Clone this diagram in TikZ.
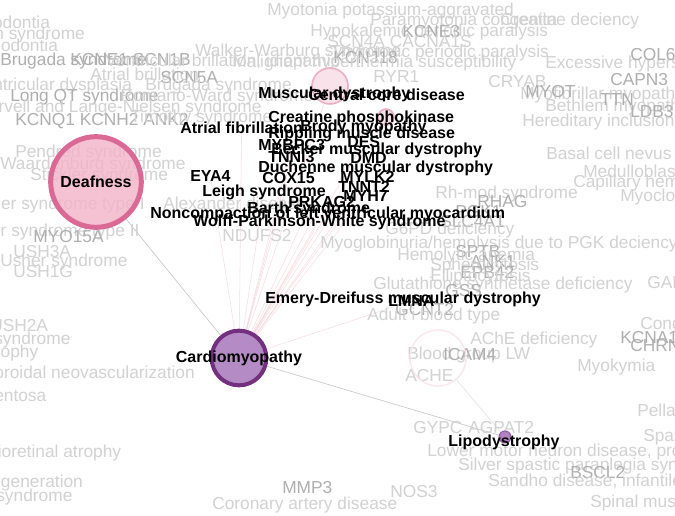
\documentclass[tikz,border=0pt]{standalone}
\usepackage{fontspec}
\setmainfont{Liberation Sans}
\usetikzlibrary{positioning,backgrounds}
\definecolor{deafpink}{HTML}{F3B3C8}
\definecolor{deafring}{HTML}{DA6A95}
\definecolor{cardiofill}{HTML}{B58BC5}
\definecolor{cardioring}{HTML}{72307E}
\definecolor{lipofill}{HTML}{B183C1}
\definecolor{lipofring}{HTML}{8E5A9E}
\definecolor{fadepink}{HTML}{F7D6E1}
\definecolor{fadering}{HTML}{EBB0C4}
\definecolor{ghostgrey}{HTML}{D2D2D2}
\definecolor{ghostdark}{HTML}{AFAFAF}
\definecolor{edgepink}{HTML}{F4C6D3}
\definecolor{edgegrey}{HTML}{CACACA}
\tikzset{
  lbl/.style   ={anchor=west, inner sep=0pt, text=black,
                 font=\bfseries\fontsize{12}{12}\selectfont},
  hublbl/.style={lbl, anchor=center},
  ghost/.style ={anchor=west, inner sep=0pt, text=ghostgrey,
                 font=\fontsize{13}{13}\selectfont},
  ghostdense/.style={ghost, text=ghostdark},
  hub/.style   ={circle, inner sep=0pt},
  deafhub/.style={hub, fill=deafpink, fill opacity=0.8, text opacity=1,
                 draw=deafring, line width=3.75pt, minimum size=68pt,
                 font=\bfseries\fontsize{12}{12}\selectfont},
  cardiohub/.style={hub, fill=cardiofill, draw=cardioring, line width=3pt,
                 minimum size=41pt},
  lipohub/.style={hub, fill=lipofill, draw=lipofring, line width=0.8pt,
                 minimum size=9pt},
  fadehub/.style={hub, fill=fadepink, fill opacity=0.7, draw=fadering,
                 line width=1.2pt},
  ghosthub/.style={hub, draw=fadepink!60, line width=1pt},
  fan/.style   ={draw=edgepink, line width=0.4pt, opacity=0.6},
  link/.style  ={draw=edgegrey, line width=0.5pt},
}

\begin{document}
\begin{tikzpicture}[x=0.75pt, y=-0.75pt]
\useasboundingbox (0,0) rectangle (675,516);
\clip (0,0) rectangle (675,516);

% ---------------------------------------------------------------- faint labels, top
\node[ghost] (g01) at (-38,24) {Hypodontia};
\node[ghost] (g02) at (-57,35) {Noonan syndrome};
\node[ghost] (g03) at (-30,47) {Oligodontia};
\node[ghost] (g04) at (195,52) {Walker-Warburg syndrome};
\node[ghostdense] (g05) at (0,61) {Brugada syndrome};
\node[ghostdense] (g06) at (70,60) {KCNE1 SCN1B};
\node[ghost] (g07) at (105,62) {Ventricular brillation, idiopathic};
\node[ghost] (g08) at (90,74) {Atrial brillation};
\node[ghostdense] (g09) at (160,78) {SCN5A};
\node[ghost] (g10) at (-190,86) {Arrhythmogenic right ventricular dysplasia};
\node[ghost] (g11) at (145,86) {Brugada syndrome};
\node[ghostdense] (g12) at (10,97) {Long QT syndrome};
\node[ghost] (g13) at (120,97) {Romano-Ward syndrome};
\node[ghost] (g14) at (-20,108) {Jervell and Lange-Nielsen syndrome};
\node[ghostdense] (g15) at (15,121) {KCNQ1 KCNH2 ANK2};
\node[ghost] (g16) at (130,118) {Timothy syndrome};

\node[ghost] (g17) at (267,11) {Myotonia potassium-aggravated};
\node[ghost] (g18) at (370,21) {Paramyotonia congenita};
\node[ghost] (g19) at (500,21) {Creatine deciency};
\node[ghost] (g20) at (310,32) {Hypokalemic periodic paralysis};
\node[ghostdense] (g21) at (402,32) {KCNE3};
\node[ghost] (g22) at (327,42) {SCN4A CACNA1S};
\node[ghost] (g23) at (330,53) {Thyrotoxic periodic paralysis};
\node[ghostdense] (g24) at (333,58) {KCNJ18};
\node[ghost] (g25) at (232,63) {Malignant hyperthermia susceptibility};
\node[ghost] (g26) at (373,77) {RYR1};
\node[ghost] (g27) at (545,64) {Excessive hypersomnia};
\node[ghostdense] (g28) at (630,55) {COL6A1};
\node[ghost] (g29) at (488,82) {CRYAB};
\node[ghostdense] (g30) at (610,80) {CAPN3};
\node[ghost] (g31) at (520,95) {Myofibrillar myopathy};
\node[ghostdense] (g32) at (525,92) {MYOT};
\node[ghost] (g33) at (545,107) {Bethlem myopathy};
\node[ghostdense] (g34) at (600,100) {TTN};
\node[ghostdense] (g35) at (630,112) {LDB3};
\node[ghost] (g36) at (522,122) {Hereditary inclusion body myopathy};

% ---------------------------------------------------------------- faint labels, left
\node[ghost] (g37) at (15,153) {Pendred syndrome};
\node[ghost] (g38) at (0,165) {Waardenburg syndrome};
\node[ghost] (g39) at (30,176) {Stickler syndrome};
\node[ghost] (g40) at (163,203) {Alexander disease};
\node[ghost] (g41) at (-30,205) {Usher syndrome type I};
\node[ghost] (g42) at (-40,232) {Usher syndrome type II};
\node[ghostdense] (g43) at (33,237) {MYO15A};
\node[ghost] (g44) at (13,252) {USH3A};
\node[ghost] (g45) at (0,262) {Usher syndrome};
\node[ghost] (g46) at (13,272) {USH1G};
\node[ghost] (g47) at (222,236) {NDUFS2};
\node[ghost] (g48) at (-10,326) {USH2A};
\node[ghost] (g49) at (-57,340) {Usher syndrome};
\node[ghost] (g50) at (-40,353) {Dystrophy};
\node[ghost] (g51) at (-28,372) {Choroidal neovascularization};
\node[ghost] (g52) at (-110,397) {Retinitis pigmentosa};
\node[ghost] (g53) at (-40,453) {Chorioretinal atrophy};
\node[ghost] (g54) at (-85,483) {Macular degeneration};
\node[ghost] (g55) at (-55,497) {Usher syndrome};
\node[ghostdense] (g56) at (282,488) {MMP3};
\node[ghost] (g57) at (212,505) {Coronary artery disease};
\node[ghost] (g58) at (390,492) {NOS3};

% ---------------------------------------------------------------- faint labels, right
\node[ghost] (g59) at (546,155) {Basal cell nevus syndrome};
\node[ghost] (g60) at (583,171) {Medulloblastoma};
\node[ghost] (g61) at (573,183) {Capillary hemangioma};
\node[ghost] (g62) at (620,197) {Myoclonic epilepsy};
\node[ghost] (g63) at (435,194) {Rh-mod syndrome};
\node[ghostdense] (g64) at (477,202) {RHAG};
\node[ghostdense] (g65) at (455,212) {PGK1};
\node[ghostdense] (g66) at (440,222) {SLC4A1};
\node[ghost] (g67) at (385,230) {G6PD deficiency};
\node[ghost] (g68) at (320,244) {Myoglobinuria/hemolysis due to PGK deciency};
\node[ghostdense] (g69) at (455,252) {SPTB};
\node[ghost] (g70) at (397,256) {Hemolytic anemia};
\node[ghostdense] (g71) at (470,262) {ANK1};
\node[ghost] (g72) at (430,266) {Spherocytosis};
\node[ghostdense] (g73) at (460,272) {EPB42};
\node[ghost] (g74) at (430,277) {Elliptocytosis};
\node[ghost] (g75) at (373,285) {Glutathione synthetase deficiency};
\node[ghostdense] (g76) at (445,291) {GSS};
\node[ghost] (g77) at (647,284) {GAMT deficiency};
\node[ghostdense] (g78) at (395,310) {GCNT2};
\node[ghost] (g79) at (367,316) {Adult i blood type};
\node[ghost] (g80) at (640,325) {Congenital};
\node[ghostdense] (g81) at (620,338) {KCNA1};
\node[ghostdense] (g82) at (630,346) {CHRNE};
\node[ghost] (g83) at (470,340) {AChE deficiency};
\node[ghost] (g84) at (407,355) {Blood group LW};
\node[ghostdense] (g85) at (443,355) {ICAM4};
\node[ghost] (g86) at (577,367) {Myokymia};
\node[ghost] (g87) at (405,376) {ACHE};
\node[ghost] (g88) at (637,412) {Pellagra};
\node[ghost] (g89) at (413,428) {GYPC};
\node[ghost] (g90) at (468,428) {AGPAT2};
\node[ghost] (g91) at (643,437) {Spastic paraplegia};
\node[ghost] (g92) at (427,452) {Lower motor neuron disease, progressive};
\node[ghost] (g93) at (458,466) {Silver spastic paraplegia syndrome};
\node[ghostdense] (g94) at (570,473) {BSCL2};
\node[ghost] (g95) at (488,481) {Sandho disease, infantile};
\node[ghost] (g96) at (590,503) {Spinal muscular atrophy};

% ---------------------------------------------------------------- hubs
\node[deafhub] (deaf) at (96,182) {Deafness};
\node[cardiohub] (cardio) at (239,358) {};
\node[hublbl] (cardiolbl) at (cardio) {Cardiomyopathy};
\node[fadehub, minimum size=27pt] (musch) at (330,86) {};
\node[fadehub, minimum size=12pt] (creath) at (386,117) {};
\node[ghosthub, minimum size=42pt] (bloodh) at (438,358) {};
\node[lipohub] (lipo) at (505,437) {};
\node[hublbl] (lipolbl) at (504,442) {Lipodystrophy};

% ---------------------------------------------------------------- cluster labels
\node[lbl] (muscdys) at (258,94) {Muscular dystrophy};
\node[lbl] (corebold) at (308,95) {Central core disease};
\node[lbl] (creatine) at (268,118) {Creatine phosphokinase};
\node[lbl] (atrial) at (180,128) {Atrial fibrillation};
\node[lbl] (brody) at (300,127) {Brody myopathy};
\node[lbl] (rippling) at (268,134) {Rippling muscle disease};
\node[lbl] (des) at (347,142) {DES};
\node[lbl] (mybpc) at (258,145) {MYBPC3};
\node[lbl] (becker) at (271,150) {Becker muscular dystrophy};
\node[lbl] (tnni3) at (268,157) {TNNI3};
\node[lbl] (dmd) at (350,158) {DMD};
\node[lbl] (duchenne) at (258,168) {Duchenne muscular dystrophy};
\node[lbl] (eya4) at (190,176) {EYA4};
\node[lbl] (cox15) at (262,178) {COX15};
\node[lbl] (mylk2) at (340,177) {MYLK2};
\node[lbl] (tnnt2) at (338,187) {TNNT2};
\node[lbl] (leigh) at (202,192) {Leigh syndrome};
\node[lbl] (myh7) at (343,196) {MYH7};
\node[lbl] (prkag2) at (288,202) {PRKAG2};
\node[lbl] (barth) at (247,209) {Barth syndrome};
\node[lbl] (noncomp) at (150,214) {Noncompaction of left ventricular myocardium};
\node[lbl] (wpw) at (193,222) {Wolff-Parkinson-White syndrome};
\node[lbl] (emery) at (265,299) {Emery-Dreifuss muscular dystrophy};
\node[lbl] (lmna) at (388,301) {LMNA};

% ---------------------------------------------------------------- edges
\begin{scope}[on background layer]
  \fill[white] (0,0) rectangle (675,516);
  \draw[fan] (cardio) -- (musch);
  \draw[fan] (cardio) -- (creath);
  \draw[fan] (cardio) -- (atrial);
  \draw[fan] (cardio) -- (des);
  \draw[fan] (cardio) -- (mybpc);
  \draw[fan] (cardio) -- (tnni3);
  \draw[fan] (cardio) -- (dmd);
  \draw[fan] (cardio) -- (cox15);
  \draw[fan] (cardio) -- (mylk2);
  \draw[fan] (cardio) -- (tnnt2);
  \draw[fan] (cardio) -- (myh7);
  \draw[fan] (cardio) -- (prkag2);
  \draw[fan] (cardio) -- (barth);
  \draw[fan] (cardio) -- (leigh);
  \draw[fan] (cardio) -- (wpw);
  \draw[fan] (cardio) -- (lmna);
  \draw[fan] (cardio) -- (eya4);
  \draw[link] (deaf) -- (cardio);
  \draw[link] (cardio) -- (lipo);
  \draw[link, opacity=0.5] (lipo) -- (bloodh);
\end{scope}

\end{tikzpicture}
\end{document}
